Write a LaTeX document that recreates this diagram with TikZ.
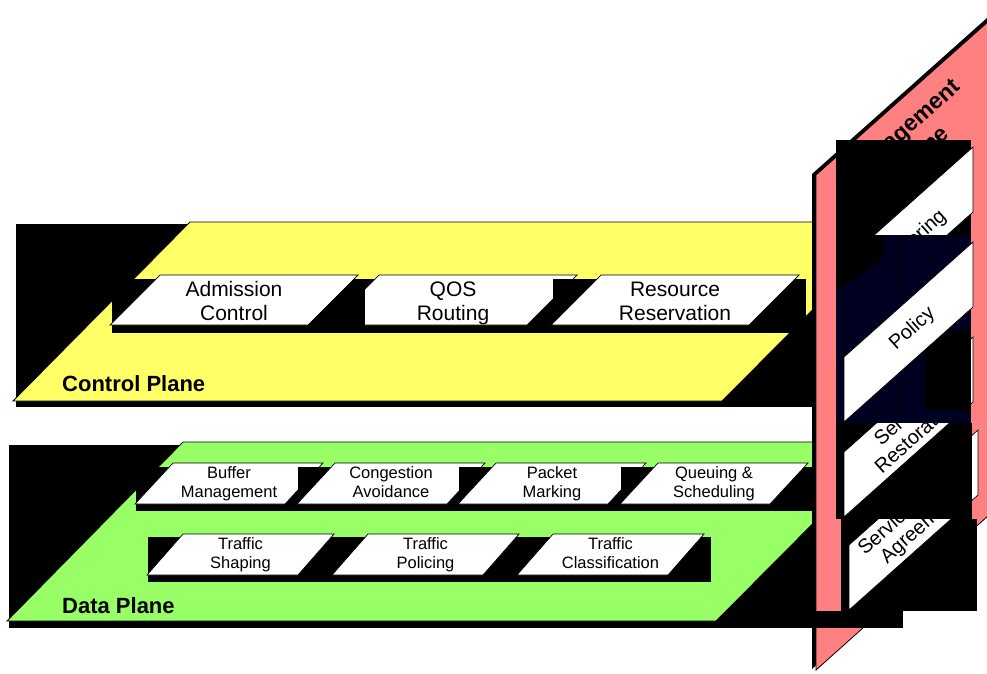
\documentclass[tikz,border=0pt]{standalone}
\usepackage{fontspec}
\setmainfont{Liberation Sans}
\definecolor{ctrlyellow}{HTML}{FFFF66}
\definecolor{datagreen}{HTML}{99FF66}
\definecolor{mgmtpink}{HTML}{FF8080}
\definecolor{deepnavy}{HTML}{000020}
\begin{document}
\begin{tikzpicture}[x=1pt,y=-1pt,
  shadowrect/.style={fill=black,draw=none},
  plate/.style={fill=white,draw=black,line width=0.7pt},
  planeface/.style={draw=black,line width=0.8pt},
  ctext/.style={font=\fontsize{21}{24}\selectfont,align=center,inner sep=0pt},
  dtext/.style={font=\fontsize{16.5}{19}\selectfont,align=center,inner sep=0pt},
  mtext/.style={font=\fontsize{20}{21}\selectfont,align=center,inner sep=0pt,rotate=41.7},
  planelabel/.style={font=\fontsize{22}{24}\selectfont\bfseries,anchor=west,inner sep=0pt}]
\useasboundingbox (0,0) rectangle (987,673);
\clip (0,0) rectangle (987,673);

% two-line label with equal line boxes
\newcommand\twolines[2]{#1\strut\\#2\strut}
% control-plane box: #1 name, #2 x of top-left corner, #3/#4 text lines
\newcommand\ctrlbox[4]{%
  \fill[shadowrect] (#2-48,279) rectangle (#2+205,333);
  \draw[plate] (#2,275) -- (#2+198,275) -- (#2+148,325) -- (#2-50,325) -- cycle;
  \node[ctext] (#1) at (#2+74,303.5) {\twolines{#3}{#4}};}
% data-plane box, upper row
\newcommand\databoxA[4]{%
  \fill[shadowrect] (#2-37,467) rectangle (#2+155,511);
  \draw[plate] (#2,463) -- (#2+150,463) -- (#2+112,504) -- (#2-38,504) -- cycle;
  \node[dtext] (#1) at (#2+56,484.5) {\twolines{#3}{#4}};}
% data-plane box, lower row
\newcommand\databoxB[4]{%
  \fill[shadowrect] (#2-35,537) rectangle (#2+158,582);
  \draw[plate] (#2,534) -- (#2+151,534) -- (#2+115,575) -- (#2-36,575) -- cycle;
  \node[dtext] (#1) at (#2+57.5,555.5) {\twolines{#3}{#4}};}
% management-plane box: #1 name, #2 x of left side, #3 y of top-left corner,
% #4 text, #5/#6 text offset
\newcommand\mgmtbox[6]{%
  \draw[plate] (#2,#3) -- (#2+129,#3-115) -- (#2+129,#3-50) -- (#2,#3+65) -- cycle;
  \node[mtext] (#1) at (#2+64.5+#5,#3-25+#6) {#4};}

% ---------------- control plane ----------------
\fill[shadowrect] (16,224) rectangle (812,407);
\fill[ctrlyellow,planeface] (190,222) -- (900,222) -- (722,401) -- (13,401) -- cycle;
\ctrlbox{qos}{379}{QOS}{Routing}
\ctrlbox{adm}{160}{Admission}{Control}
\ctrlbox{res}{601}{Resource}{Reservation}
\node[planelabel] (cplane) at (62,384) {Control Plane};

% ---------------- data plane ----------------
\fill[shadowrect] (9,445) rectangle (812,628);
\fill[datagreen,planeface] (183,442) -- (894,442) -- (716,621) -- (7,621) -- cycle;
\databoxA{buf}{173}{Buffer}{Management}
\databoxA{cong}{335}{Congestion}{Avoidance}
\databoxA{mark}{496}{Packet}{Marking}
\databoxA{queue}{658}{Queuing \&}{Scheduling}
\databoxB{shape}{183}{Traffic}{Shaping}
\databoxB{police}{368}{Traffic}{Policing}
\databoxB{class}{553}{Traffic}{Classification}
\node[planelabel] (dplane) at (62,606) {Data Plane};

% ---------------- management plane ----------------
\fill[black] (812,174) -- (1200,-172) -- (1200,320) -- (812,669) -- cycle;
\fill[mgmtpink,planeface] (816,175) -- (1200,-167) -- (1200,326) -- (816,670) -- cycle;
\node[font=\fontsize{23}{28}\selectfont\bfseries,align=center,inner sep=0pt,rotate=41.7]
  (mplane) at (913,140) {Management\\Plane};

\fill[shadowrect] (841,519) rectangle (977,611);
\mgmtbox{sla}{849}{545}{Service Level\\Agreement}{0}{0}
\fill[shadowrect] (836,423) rectangle (972,519);
\mgmtbox{restore}{844}{452}{Service\\Restoration}{0}{0}
\fill[shadowrect] (836,140) rectangle (971,235);
\mgmtbox{meter}{844}{262}{Metering}{6}{3}
\fill[deepnavy] (836,235) rectangle (971,423);
\fill[black] (836,235) -- (883,235) -- (883,258) -- (836,292) -- cycle;
\fill[black] (925,330) rectangle (971,410);
\draw[black,line width=0.8pt] (898,235) -- (898,300) (897,380) -- (897,423);
\mgmtbox{policy}{844}{357}{Policy}{4}{-3}
\fill[shadowrect] (812,611) rectangle (903,628);
\end{tikzpicture}
\end{document}
